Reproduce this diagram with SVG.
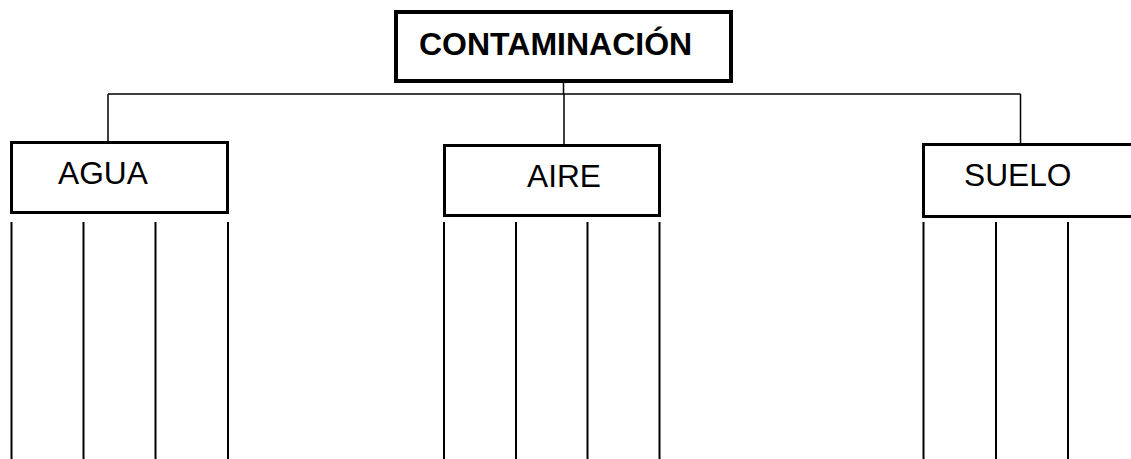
<svg xmlns="http://www.w3.org/2000/svg" width="1131" height="459" viewBox="0 0 1131 459">
<style>
.box{fill:#fff;stroke:#000;stroke-width:3}
.main{stroke-width:4}
.t{font-family:"Liberation Sans",Arial,sans-serif;font-size:31.7px;fill:#000}
.b{font-weight:bold;font-size:32px}
.c{stroke:#000;stroke-width:1.5;fill:none}
.v{stroke:#000;stroke-width:2;fill:none}
</style>
<rect width="1131" height="459" fill="#fff"/>
<g id="connectors">
<path class="c" d="M563.5 81V94M108 94H1020.5M108 94V141M564 94V144M1020.5 94V143"/>
<path class="v" d="M11.5 222V459M83.5 222V459M155.5 222V459M228 222V459M444 222V459M516 222V459M587.5 222V459M659.5 222V459M923.5 222V459M996 222V459M1068 222V459"/>
</g>
<g id="contaminacion">
<rect class="box main" x="396" y="12" width="335" height="69"/>
<text class="t b" x="419" y="55">CONTAMINACIÓN</text>
</g>
<g id="agua">
<rect class="box" x="11.5" y="142.5" width="216" height="70"/>
<text class="t" x="58" y="184">AGUA</text>
</g>
<g id="aire">
<rect class="box" x="444.5" y="145.5" width="215" height="70"/>
<text class="t" x="527" y="187">AIRE</text>
</g>
<g id="suelo">
<rect class="box" x="923.5" y="144.5" width="250" height="72"/>
<text class="t" x="964" y="186">SUELO</text>
</g>
</svg>
